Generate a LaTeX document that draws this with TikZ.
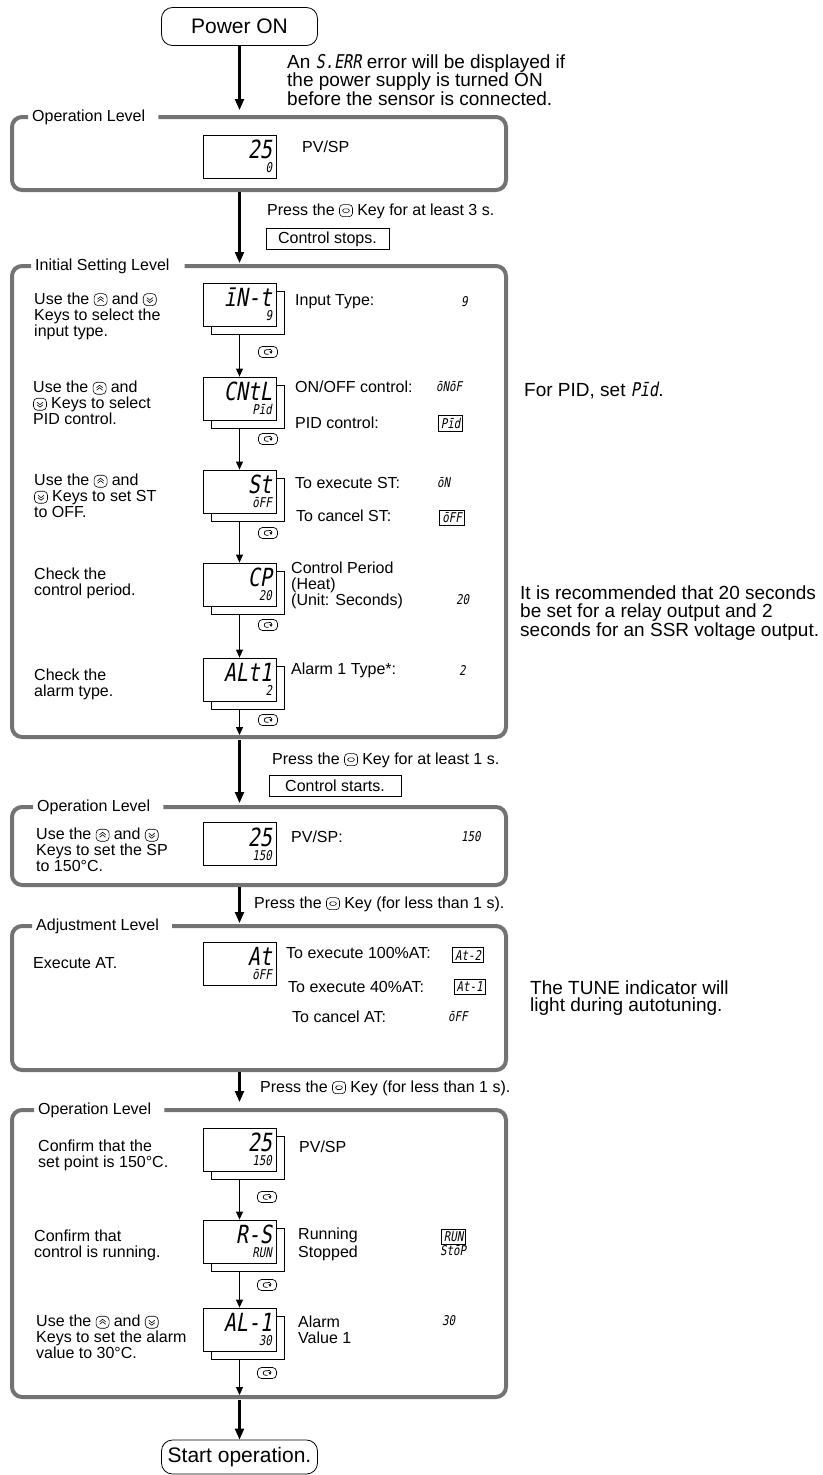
\documentclass[tikz,border=0pt]{standalone}
\usepackage{fontspec}
\setmainfont{Liberation Sans}
\newfontfamily\segfont{DejaVu Sans Mono}[FakeSlant=0.18,FakeStretch=0.8]
\usetikzlibrary{arrows.meta,shadows}

\newcommand{\bodyfont}{\fontsize{16}{16}\selectfont}
\newcommand{\notefont}{\fontsize{19}{17.5}\selectfont}
\newcommand{\segbig}{\fontsize{25}{22}\segfont}
\newcommand{\segsmall}{\fontsize{13.5}{14}\segfont}

% key icons used in the text
\newcommand{\modekey}{\tikz[x=1pt,y=1pt,baseline=1.5pt]{%
    \draw[line width=0.6pt,rounded corners=3.5pt] (0,0) rectangle (13,12);
    \draw[line width=0.6pt,rounded corners=1.5pt] (3.2,4.2) rectangle (9.8,7.8);}}
\newcommand{\upkey}{\tikz[x=1pt,y=1pt,baseline=1.5pt]{%
    \draw[line width=0.6pt,rounded corners=4pt] (0,0) rectangle (13,12);
    \draw[line width=0.6pt] (3.5,4) -- (6.5,6.5) -- (9.5,4) (3.5,6.5) -- (6.5,9) -- (9.5,6.5);}}
\newcommand{\downkey}{\tikz[x=1pt,y=1pt,baseline=1.5pt]{%
    \draw[line width=0.6pt,rounded corners=4pt] (0,0) rectangle (13,12);
    \draw[line width=0.6pt] (3.5,8) -- (6.5,5.5) -- (9.5,8) (3.5,5.5) -- (6.5,3) -- (9.5,5.5);}}
\newcommand{\loopkey}{\tikz[x=1pt,y=1pt]{%
    \draw[line width=0.7pt,rounded corners=4pt] (0,0) rectangle (19,11);
    \draw[line width=0.7pt] (10.5,7.8) -- (8,7.8) arc (90:270:2.3) -- (10,3.2);
    \draw[line width=0.7pt,-{Triangle[length=2.6pt,width=3pt]}] (12.5,7.8) -- (12.5,3.6);
    \draw[line width=0.7pt] (10.5,7.8) -- (12.5,7.8);}}

\begin{document}
\begin{tikzpicture}[
    x=1pt, y=-1pt,
    frame/.style={draw=black!55, line width=4pt, rounded corners=10pt},
    lvl/.style={anchor=west, inner sep=0pt, font=\bodyfont},
    txt/.style={anchor=west, align=left, inner sep=0pt, font=\bodyfont},
    note/.style={anchor=west, align=left, inner sep=0pt, font=\notefont},
    val/.style={anchor=west, inner sep=0pt, font=\segsmall},
    valbox/.style={draw, line width=0.8pt, inner xsep=2.5pt, inner ysep=2.5pt, font=\segsmall},
    lcd/.style={draw, fill=white, line width=0.8pt, minimum width=73pt, minimum height=43pt,
        text width=65pt, align=right, inner sep=0pt, font=\segsmall},
    lcdstack/.style={lcd, copy shadow={shadow xshift=8pt, shadow yshift=-8pt}},
    keyicon/.style={inner sep=0pt},
    term/.style={draw, line width=0.8pt, rounded corners=11pt, minimum width=156pt,
        minimum height=38pt, font=\fontsize{21}{21}\selectfont},
    msg/.style={draw, line width=0.8pt, minimum height=21pt, font=\bodyfont},
    flow/.style={-{Triangle[length=8pt,width=7pt]}, line width=0.9pt},
    bigflow/.style={-{Triangle[length=11pt,width=9pt]}, line width=2.2pt}
]
    \useasboundingbox (0,0) rectangle (822,1475);

    % --- Power ON ---
    \node[term] (power) at (239.5,26.5) {Power ON};
    \node[note] (serr) at (287,80) {An {\fontsize{19}{18}\segfont S.ERR} error will be displayed if\\the power supply is turned ON\\before the sensor is connected.};
    \coordinate (op1in) at (239.5,110);
    \draw[bigflow] (power) -- (op1in);

    % --- Operation Level ---
    \node[lvl] (lop1) at (32,117) {Operation Level};
    \draw[frame] ([xshift=13pt]lop1.east) -- (506,117) -- (506,190) -- (12,190) -- (12,117) -- ([xshift=-4pt]lop1.west);
    \node[lcd] (pv1) at (239.5,156.5) {{\segbig 25}\\0};
    \node[txt] (pv1n) at (302,147) {PV/SP};

    \coordinate (op1out) at (239.5,192);
    \coordinate (initin) at (239.5,263);
    \draw[bigflow] (op1out) -- (initin);
    \node[txt] (press3) at (267,211) {Press the \modekey{} Key for at least 3 s.};
    \node[msg, minimum width=123pt] (stops) at (327.5,239) {Control stops.};

    % --- Initial Setting Level ---
    \node[lvl] (linit) at (35,266) {Initial Setting Level};
    \draw[frame] ([xshift=15pt]linit.east) -- (506,266) -- (506,737) -- (12,737) -- (12,266) -- ([xshift=-4pt]linit.west);

    % Input type
    \node[lcdstack] (intype) at (239.5,304.5) {{\segbig īN-t}\\9};
    \node[txt] (intypel) at (34,316) {Use the \upkey{} and \downkey\\Keys to select the\\input type.};
    \node[txt] (intypen) at (295,302) {Input Type:};
    \node[val] (intypev) at (461,302) {9};
    \node[keyicon] (intypek) at (268,352) {\loopkey};

    % Control method
    \node[lcdstack] (cntl) at (239.5,398.5) {{\segbig CNtL}\\Pīd};
    \node[txt] (cntll) at (33,403) {Use the \upkey{} and\\\downkey{} Keys to select\\PID control.};
    \node[txt] (onoffn) at (295,387) {ON/OFF control:};
    \node[val] (onoffv) at (436,387) {ōNōF};
    \node[txt] (pidn) at (295,423) {PID control:};
    \node[valbox] (pidv) at (450.5,423.5) {Pīd};
    \node[keyicon] (cntlk) at (268,439) {\loopkey};
    \node[note] (pidnote) at (524,390) {For PID, set {\segfont Pīd}.};

    % Self-tuning
    \node[lcdstack] (st) at (239.5,491.5) {{\segbig St}\\ōFF};
    \node[txt] (stl) at (34,496) {Use the \upkey{} and\\\downkey{} Keys to set ST\\to OFF.};
    \node[txt] (stonn) at (295,483) {To execute ST:};
    \node[val] (stonv) at (437,483) {ōN};
    \node[txt] (stoffn) at (296,516) {To cancel ST:};
    \node[valbox] (stoffv) at (452,518) {ōFF};
    \node[keyicon] (stk) at (268,533) {\loopkey};

    % Control period
    \node[lcdstack] (cp) at (239.5,584.5) {{\segbig CP}\\20};
    \node[txt] (cpl) at (34,583) {Check the\\control period.};
    \node[txt] (cpn) at (291,585) {Control Period\\(Heat)\\(Unit: Seconds)};
    \node[val] (cpv) at (456,600) {20};
    \node[keyicon] (cpk) at (268,625) {\loopkey};
    \node[note] (cpnote) at (520,613) {It is recommended that 20 seconds\\be set for a relay output and 2\\seconds for an SSR voltage output.};

    % Alarm type
    \node[lcdstack] (alt) at (239.5,679.5) {{\segbig ALt1}\\2};
    \node[txt] (altl) at (34,684) {Check the\\alarm type.};
    \node[txt] (altn) at (291,670) {Alarm 1 Type*:};
    \node[val] (altv) at (459,670) {2};
    \node[keyicon] (altk) at (268,720) {\loopkey};
    \coordinate (initend) at (239.5,735);

    \draw[flow] ([yshift=-8pt]intype.south) -- (cntl.north);
    \draw[flow] ([yshift=-8pt]cntl.south) -- (st.north);
    \draw[flow] ([yshift=-8pt]st.south) -- (cp.north);
    \draw[flow] ([yshift=-8pt]cp.south) -- (alt.north);
    \draw[flow] ([yshift=-8pt]alt.south) -- (initend);

    \coordinate (initout) at (239.5,740);
    \coordinate (op2in) at (239.5,803);
    \draw[bigflow] (initout) -- (op2in);
    \node[txt] (press1) at (272,760) {Press the \modekey{} Key for at least 1 s.};
    \node[msg, minimum width=132pt] (starts) at (335,785.5) {Control starts.};

    % --- Operation Level ---
    \node[lvl] (lop2) at (37,807) {Operation Level};
    \draw[frame] ([xshift=13pt]lop2.east) -- (506,807) -- (506,885) -- (12,885) -- (12,807) -- ([xshift=-4pt]lop2.west);
    \node[lcd] (sp) at (239.5,844) {{\segbig 25}\\150};
    \node[txt] (spl) at (36,850) {Use the \upkey{} and \downkey\\Keys to set the SP\\to 150°C.};
    \node[txt] (spn) at (291,837) {PV/SP:};
    \node[val] (spv) at (461,837) {150};

    \coordinate (op2out) at (239.5,887);
    \coordinate (adjin) at (239.5,923);
    \draw[bigflow] (op2out) -- (adjin);
    \node[txt] (pressa) at (254,904) {Press the \modekey{} Key (for less than 1 s).};

    % --- Adjustment Level ---
    \node[lvl] (ladj) at (36,926) {Adjustment Level};
    \draw[frame] ([xshift=13pt]ladj.east) -- (506,926) -- (506,1070) -- (12,1070) -- (12,926) -- ([xshift=-4pt]ladj.west);
    \node[lcd] (at) at (239.5,963.5) {{\segbig At}\\ōFF};
    \node[txt] (atl) at (33,963) {Execute AT.};
    \node[txt] (at2n) at (286,953) {To execute 100\%AT:};
    \node[valbox] (at2v) at (468,955) {At-2};
    \node[txt] (at1n) at (288,987) {To execute 40\%AT:};
    \node[valbox] (at1v) at (469.5,986.5) {At-1};
    \node[txt] (atoffn) at (292,1017) {To cancel AT:};
    \node[val] (atoffv) at (448,1017) {ōFF};
    \node[note] (atnote) at (530,998) {The TUNE indicator will\\light during autotuning.};

    \coordinate (adjout) at (239.5,1072);
    \coordinate (op3in) at (239.5,1102);
    \draw[bigflow] (adjout) -- (op3in);
    \node[txt] (pressb) at (260,1088) {Press the \modekey{} Key (for less than 1 s).};

    % --- Operation Level ---
    \node[lvl] (lop3) at (38,1110) {Operation Level};
    \draw[frame] ([xshift=13pt]lop3.east) -- (506,1110) -- (506,1397) -- (12,1397) -- (12,1110) -- ([xshift=-4pt]lop3.west);

    \node[lcdstack] (pv3) at (239.5,1149.5) {{\segbig 25}\\150};
    \node[txt] (pv3l) at (38,1155) {Confirm that the\\set point is 150°C.};
    \node[txt] (pv3n) at (299,1147) {PV/SP};
    \node[keyicon] (pv3k) at (267,1197) {\loopkey};

    \node[lcdstack] (rs) at (239.5,1241.5) {{\segbig R-S}\\RUN};
    \node[txt] (rsl) at (34,1245) {Confirm that\\control is running.};
    \node[txt] (runn) at (298,1235) {Running};
    \node[valbox] (runv) at (453.5,1236.5) {RUN};
    \node[txt] (stopn) at (298,1253) {Stopped};
    \node[val] (stopv) at (440,1251) {StōP};
    \node[keyicon] (rsk) at (267,1285) {\loopkey};

    \node[lcdstack] (al) at (239.5,1329.5) {{\segbig AL-1}\\30};
    \node[txt] (all) at (36,1337) {Use the \upkey{} and \downkey\\Keys to set the alarm\\value to 30°C.};
    \node[txt] (aln) at (298,1330) {Alarm\\Value 1};
    \node[val] (alv) at (442,1321) {30};
    \node[keyicon] (alk) at (267,1373) {\loopkey};
    \coordinate (op3end) at (239.5,1395);

    \draw[flow] ([yshift=-8pt]pv3.south) -- (rs.north);
    \draw[flow] ([yshift=-8pt]rs.south) -- (al.north);
    \draw[flow] ([yshift=-8pt]al.south) -- (op3end);

    % --- Start ---
    \coordinate (op3out) at (239.5,1400);
    \node[term, minimum height=34pt] (start) at (239.5,1457) {Start operation.};
    \draw[bigflow] (op3out) -- (start);

\end{tikzpicture}
\end{document}
